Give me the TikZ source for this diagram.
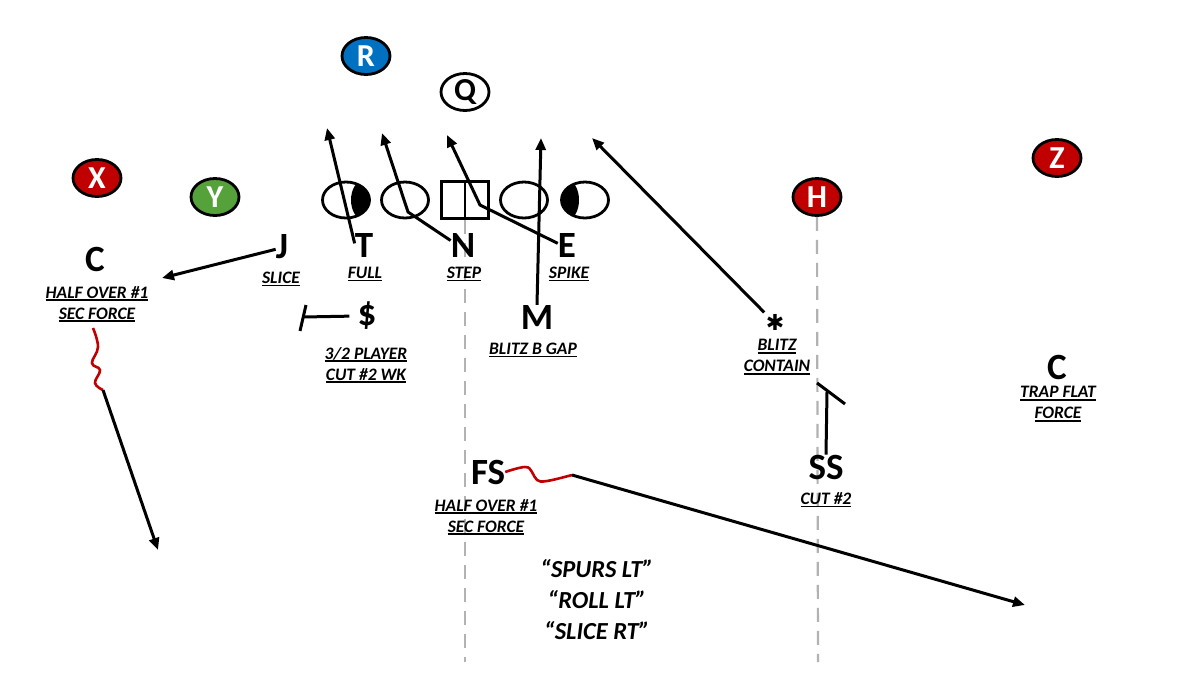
\documentclass[tikz,border=0pt]{standalone}
\usepackage{fontspec}
\setmainfont{Carlito}
\newfontfamily\starfont{DejaVu Sans}
\usetikzlibrary{positioning, shapes.geometric, arrows.meta}

\definecolor{offred}{HTML}{C00000}
\definecolor{offblue}{HTML}{0070C0}
\definecolor{offgreen}{HTML}{55A23A}
\newcommand{\ulab}[1]{\setbox0\hbox{#1}\rlap{\rule[-2.8pt]{\wd0}{1.5pt}}\box0}

\begin{document}
\begin{tikzpicture}[x=1pt, y=-1pt,
        player/.style={draw=black, ellipse, line width=2.8pt, minimum width=48pt, minimum height=37pt, inner sep=0pt, text=white, font=\fontsize{32}{32}\selectfont\bfseries},
        lineman/.style={draw=black, ellipse, line width=2.8pt, minimum width=47pt, minimum height=36pt, inner sep=0pt},
        defender/.style={inner sep=0pt, font=\fontsize{37}{37}\selectfont\bfseries},
        assign/.style={inner sep=0pt, align=center, font=\fontsize{17.5}{21}\selectfont\bfseries\itshape},
        call/.style={inner sep=0pt, align=center, font=\fontsize{24.5}{31}\selectfont\bfseries\itshape},
        arrow/.style={-{Triangle[length=12pt, width=10pt]}, line width=3pt},
        block/.style={line width=3pt},
        stunt/.style={offred, line width=2.6pt},
        yardline/.style={black!30, line width=2.2pt, dash pattern=on 14pt off 9pt}
    ]
    \useasboundingbox (0,0) rectangle (1200,675);

    % offense
    \node[player, fill=offblue] (r) at (366,56) {R};
    \node[player, fill=white, text=black] (q) at (465,92) {Q};
    \node[player, fill=offred] (x) at (97,178) {X};
    \node[player, fill=offgreen] (y) at (215,197) {Y};
    \node[player, fill=offred] (h) at (817,197) {H};
    \node[player, fill=offred] (z) at (1057,158) {Z};

    \node[lineman] (lt) at (346,200) {};
    \node[lineman] (lg) at (405,200) {};
    \node[draw, line width=2.8pt, minimum width=47pt, minimum height=37pt] (ctr) at (465,200) {};
    \node[lineman] (rg) at (524,200) {};
    \node[lineman] (rt) at (585,200) {};
    \draw[line width=2.4pt] (ctr.north) -- (ctr.south);
    \begin{scope}
        \clip (lt.center) ellipse (23pt and 17pt);
        \fill (364,200) ellipse (13pt and 20pt);
    \end{scope}
    \begin{scope}
        \clip (rt.center) ellipse (23pt and 17pt);
        \fill (567,200) ellipse (12pt and 20pt);
    \end{scope}

    \coordinate (ctrEnd) at (465,662);
    \coordinate (hEnd) at (818,662);
    \draw[yardline] (ctr.south) -- (ctrEnd);
    \draw[yardline] (h.south) -- (hEnd);

    % defense
    \node[defender] (cl) at (95,259) {C};
    \node[assign] (cllab) at (97,304) {\ulab{HALF OVER \#1}\\\ulab{SEC FORCE}};
    \node[defender] (j) at (282,247) {J};
    \node[assign] (jlab) at (281,279) {\ulab{SLICE}};
    \node[defender] (t) at (364,245) {T};
    \node[assign] (tlab) at (365,274) {\ulab{FULL}};
    \node[defender] (n) at (463,245) {N};
    \node[assign] (nlab) at (464,274) {\ulab{STEP}};
    \node[defender] (e) at (567,245) {E};
    \node[assign] (elab) at (569,274) {\ulab{SPIKE}};
    \node[defender] (sp) at (367,316) {\$};
    \node[assign] (splab) at (366,365) {\ulab{3/2 PLAYER}\\\ulab{CUT \#2 WK}};
    \node[defender] (m) at (537,317) {M};
    \node[assign] (mlab) at (533,350) {\ulab{BLITZ B GAP}};
    \node[inner sep=0pt, font=\starfont\bfseries\fontsize{22}{22}\selectfont] (star) at (775,322) {✱};
    \node[assign] (starlab) at (777,357) {\ulab{BLITZ}\\\ulab{CONTAIN}};
    \node[defender] (cr) at (1057,367) {C};
    \node[assign] (crlab) at (1058,404) {\ulab{TRAP FLAT}\\\ulab{FORCE}};
    \node[defender] (fs) at (488,472) {FS};
    \node[assign] (fslab) at (486,517) {\ulab{HALF OVER \#1}\\\ulab{SEC FORCE}};
    \node[defender] (ss) at (826,467) {SS};
    \node[assign] (sslab) at (826,500) {\ulab{CUT \#2}};

    \node[call] (calls) at (597,600) {“SPURS LT”\\“ROLL LT”\\“SLICE RT”};

    % rush and coverage
    \coordinate (tTip) at (327,128);
    \coordinate (nBend) at (408,212);
    \coordinate (nTip) at (382,133);
    \coordinate (eBend) at (480,205);
    \coordinate (eTip) at (447,135);
    \coordinate (mTip) at (541,138);
    \coordinate (starTip) at (592,138);
    \coordinate (jTip) at (162,278);
    \coordinate (spEnd) at (303,317);
    \coordinate (ssEnd) at (827,392);
    \coordinate (cStart) at (93,328);
    \coordinate (cBreak) at (103,390);
    \coordinate (cTip) at (158,550);
    \coordinate (fsBreak) at (572,475);
    \coordinate (fsTip) at (1025,605);

    \draw[arrow] (t.170) -- (tTip);
    \draw[arrow] (n.160) -- (nBend) -- (nTip);
    \draw[arrow] (e.170) -- (eBend) -- (eTip);
    \draw[arrow] (m.north) -- (mTip);
    \draw[arrow, shorten <=2pt] (star.north west) -- (starTip);
    \draw[arrow] (j.200) -- (jTip);
    \draw[block, shorten <=8pt] (sp.west) -- (spEnd);
    \draw[block] ([shift={(3,-12)}]spEnd) -- ([shift={(-3,14)}]spEnd);
    \draw[block] (ss.north) -- (ssEnd);
    \draw[block] ([shift={(-10,-9)}]ssEnd) -- ([shift={(18,12)}]ssEnd);

    \draw[stunt] plot[smooth, tension=0.7] coordinates {(cStart) (98,347) (92,363) (100,370) (95,383) (cBreak)};
    \draw[arrow] (cBreak) -- (cTip);
    \draw[stunt] plot[smooth, tension=0.7] coordinates {(fs.east) (525,467) (532,472) (537,480) (547,481) (fsBreak)};
    \draw[arrow] (fsBreak) -- (fsTip);
\end{tikzpicture}
\end{document}
